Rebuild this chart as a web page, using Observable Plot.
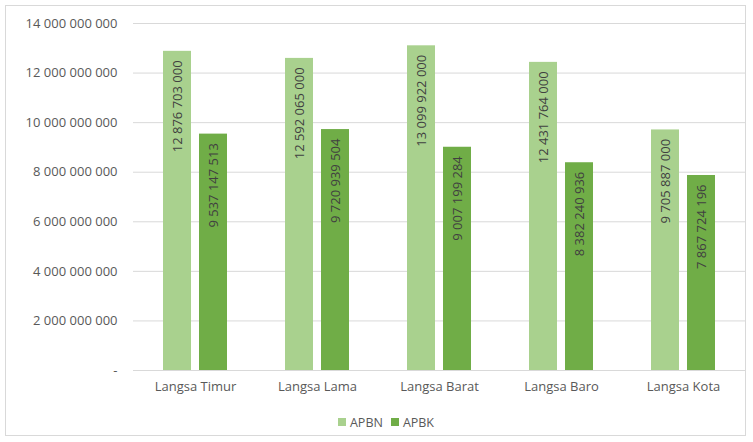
<!DOCTYPE html>
<html>
<head>
<meta charset="utf-8">
<script src="https://cdn.jsdelivr.net/npm/d3@7"></script>
<script src="https://cdn.jsdelivr.net/npm/@observablehq/plot@0.6"></script>
<style>
  html, body { margin: 0; padding: 0; background: #fff; }
  #wrap { position: relative; width: 753px; height: 442px; overflow: hidden; font-family: "Open Sans", sans-serif; }
  #frame { position: absolute; left: 5px; top: 5px; width: 741px; height: 431px; border: 1px solid #d9d9d9; box-sizing: border-box; }
  #chart { position: absolute; left: 0; top: 0; }
  #legend { position: absolute; top: 413px; left: 0; width: 772px; text-align: center; font-size: 12.5px; color: #595959; }
  #legend span.item { display: inline-flex; align-items: center; margin: 0 4px; }
  #legend span.sw { display: inline-block; width: 8px; height: 8px; margin-right: 4px; }
</style>
</head>
<body>
<div id="wrap">
  <div id="frame"></div>
  <div id="chart"></div>
  <div id="legend"></div>
</div>
<script>
const categories = ["Langsa Timur", "Langsa Lama", "Langsa Barat", "Langsa Baro", "Langsa Kota"];
const series = ["APBN", "APBK"];
const apbn = [12876703000, 12592065000, 13099922000, 12431764000, 9705887000];
const apbk = [9537147513, 9720939504, 9007199284, 8382240936, 7867724196];
const yTicks = [0, 2e9, 4e9, 6e9, 8e9, 10e9, 12e9, 14e9];
const colors = ["#a9d18e", "#70ad47"];

const dataN = categories.map((c, i) => ({kec: c, sumber: series[0], nilai: apbn[i]}));
const dataK = categories.map((c, i) => ({kec: c, sumber: series[1], nilai: apbk[i]}));

const fmt = v => d3.format(",")(v).replace(/,/g, " ");
const tickFmt = v => v === 0 ? "-" : fmt(v);

const chart = Plot.plot({
  width: 753,
  height: 400,
  marginTop: 23,
  marginBottom: 30,
  marginLeft: 133,
  marginRight: 8,
  style: {fontFamily: "Open Sans, sans-serif", fontSize: "13px", color: "#595959", background: "transparent"},
  y: {domain: [0, 14e9], label: null},
  x: {domain: categories, paddingInner: 0.477, paddingOuter: 0.2385, label: null},
  marks: [
    Plot.ruleY(yTicks, {stroke: "#d9d9d9", strokeWidth: 1}),
    Plot.barY(dataN, {x: "kec", y: "nilai", fill: colors[0], insetRight: 36}),
    Plot.barY(dataK, {x: "kec", y: "nilai", fill: colors[1], insetLeft: 36}),
    Plot.text(dataN, {x: "kec", y: "nilai", text: d => fmt(d.nilai), rotate: -90, textAnchor: "end", dx: -18, dy: 9, fill: "#404040", fontSize: 13}),
    Plot.text(dataK, {x: "kec", y: "nilai", text: d => fmt(d.nilai), rotate: -90, textAnchor: "end", dx: 18, dy: 9, fill: "#404040", fontSize: 13}),
    Plot.axisY({ticks: yTicks, tickFormat: tickFmt, tickSize: 0, tickPadding: 16, label: null, fill: "#595959"}),
    Plot.axisX({tickSize: 0, tickPadding: 11, label: null, fill: "#595959"})
  ]
});
document.getElementById("chart").appendChild(chart);

const legend = document.getElementById("legend");
series.forEach((s, i) => {
  const item = document.createElement("span");
  item.className = "item";
  const sw = document.createElement("span");
  sw.className = "sw";
  sw.style.background = colors[i];
  item.appendChild(sw);
  item.appendChild(document.createTextNode(s));
  legend.appendChild(item);
});
</script>
</body>
</html>
